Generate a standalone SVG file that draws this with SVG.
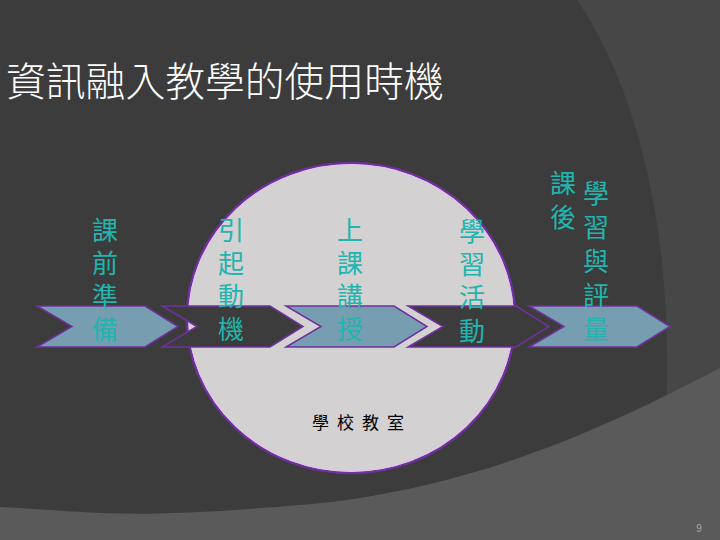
<svg xmlns="http://www.w3.org/2000/svg" width="720" height="540" viewBox="0 0 720 540">
  <style>
    .v { font-family: "Noto Sans CJK TC", "Noto Sans CJK SC", sans-serif; font-size: 26px; fill: #22b4ae; writing-mode: vertical-rl; text-orientation: upright; letter-spacing: 7px; }
    .title { font-family: "Noto Sans CJK TC", "Noto Sans CJK SC", sans-serif; font-size: 39.8px; font-weight: 300; fill: #ffffff; }
    .light { fill: #779eb0; stroke: #7030a0; stroke-width: 1.5; stroke-linejoin: miter; }
    .dark { fill: #3c3c3c; stroke: #7030a0; stroke-width: 1.5; stroke-linejoin: miter; }
  </style>
  <defs>
    <polygon id="chev" points="0,0 108,0 141,20.5 108,41 0,41 35,20.5"/>
  </defs>

  <g id="background">
    <rect x="0" y="0" width="720" height="540" fill="#474747"/>
    <path d="M0,0 H577 C645,100 690,280 655,540 L0,540 Z" fill="#3c3c3c"/>
    <path d="M720,368 C620,420 480,490 300,505 S100,512 0,507 L0,540 L720,540 Z" fill="#5a5a5a"/>
  </g>

  <g id="title">
    <text class="title" x="6" y="96">資訊融入教學的使用時機</text>
  </g>

  <g id="school-classroom">
    <ellipse cx="351" cy="318" rx="164" ry="155" fill="#d3d1d1" stroke="#7030a0" stroke-width="2.5"/>
    <ellipse cx="351" cy="318" rx="162.3" ry="153.3" fill="none" stroke="#e2c4ee" stroke-width="1.2"/>
    <text x="312" y="429" font-family="Noto Sans CJK TC, Noto Sans CJK SC, sans-serif" font-size="17" fill="#000000" letter-spacing="8">學校教室</text>
  </g>

  <g id="connectors"></g>

  <g id="step-before-class">
    <use href="#chev" class="light" x="37" y="306"/>
    <text class="v" x="105" y="217">課前準備</text>
  </g>

  <g id="step-motivation">
    <use href="#chev" class="dark" x="162" y="306"/>
    <text class="v" x="231" y="217">引起動機</text>
  </g>

  <g id="step-lecture">
    <use href="#chev" class="light" x="286" y="306"/>
    <text class="v" x="350" y="217">上課講授</text>
  </g>

  <g id="step-activity">
    <use href="#chev" class="dark" x="408" y="306"/>
    <text class="v" x="472" y="218" style="letter-spacing:7.3px">學習活動</text>
  </g>

  <g id="step-after-class">
    <use href="#chev" class="light" x="529" y="306"/>
    <text class="v" x="563" y="170" style="letter-spacing:8px">課後</text>
    <text class="v" x="596" y="180" style="letter-spacing:8px">學習與評量</text>
  </g>

  <g id="page-number">
    <text x="699" y="532" font-family="Liberation Sans, sans-serif" font-size="10" fill="#a8a8a8" text-anchor="middle">9</text>
  </g>
</svg>
